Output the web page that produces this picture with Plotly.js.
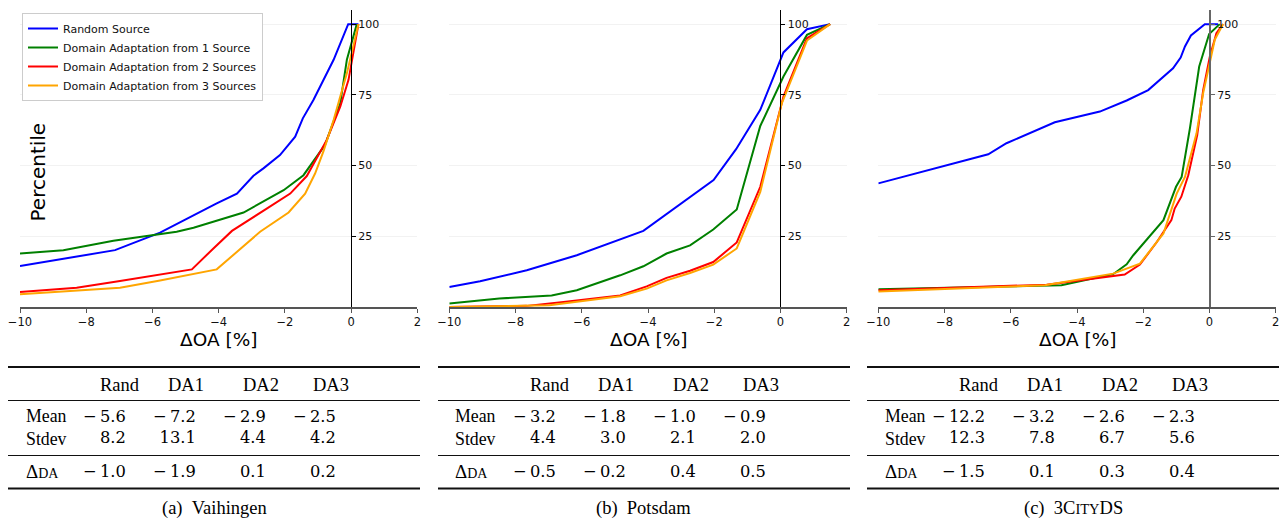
<!DOCTYPE html>
<html>
<head>
<meta charset="utf-8">
<script src="https://cdn.plot.ly/plotly-3.0.1.min.js"></script>
<style>html,body{margin:0;padding:0;background:#fff;}#chart{width:1282px;height:522px;}</style>
</head>
<body>
<div id="chart"></div>
<script>
// ---------------- DATA ----------------
const seriesNames = ['Random Source', 'Domain Adaptation from 1 Source', 'Domain Adaptation from 2 Sources', 'Domain Adaptation from 3 Sources'];
const xTickVals = [-10, -8, -6, -4, -2, 0, 2];
const yTickVals = [25, 50, 75, 100];

// (a) Vaihingen
const vai_rand_x = [-10, -7.13, -5.77, -4.76, -4.06, -3.45, -2.95, -2.65, -2.15, -1.69, -1.46, -1.14, -0.84, -0.53, -0.09, 0.22];
const vai_rand_y = [14.5, 20.1, 26.3, 32.5, 36.6, 40.1, 46.4, 49.0, 53.7, 60.2, 66.7, 73.2, 80.3, 87.4, 100, 100];
const vai_da1_x = [-10, -8.69, -7.18, -6.02, -5.27, -4.76, -3.25, -2.04, -1.44, -0.79, -0.33, -0.13, 0.17];
const vai_da1_y = [18.9, 20.1, 23.4, 25.4, 26.6, 28.0, 33.4, 41.3, 46.6, 57.3, 72.0, 87.4, 100];
const vai_da2_x = [-10, -8.29, -6.98, -4.81, -4.16, -3.60, -2.55, -1.84, -1.34, -0.74, -0.33, -0.08, 0.22];
const vai_da2_y = [5.3, 6.8, 9.2, 13.3, 20.7, 26.9, 34.8, 40.1, 46.3, 59.0, 70.8, 80.3, 100];
const vai_da3_x = [-10, -6.98, -5.77, -4.06, -2.75, -1.89, -1.39, -1.09, -0.84, -0.53, -0.13, 0.22];
const vai_da3_y = [4.5, 6.8, 9.4, 13.3, 26.6, 33.4, 40.1, 47.2, 54.9, 66.1, 82.6, 100];

// (b) Potsdam
const pot_rand_x = [-10, -9.07, -7.66, -6.15, -4.14, -2.63, -2.02, -1.34, -0.61, 0.09, 0.80, 1.50];
const pot_rand_y = [7.1, 9.1, 13.0, 18.3, 26.9, 39.6, 44.9, 55.8, 69.7, 90.0, 98.2, 100];
const pot_da1_x = [-10, -8.49, -6.91, -6.15, -4.84, -4.14, -3.44, -2.73, -2.03, -1.32, -0.61, 0.09, 0.80, 1.50];
const pot_da1_y = [1.2, 3.0, 4.1, 5.9, 11.2, 14.4, 18.9, 21.8, 27.4, 34.5, 64.0, 81.5, 96.2, 100];
const pot_da2_x = [-10, -7.66, -6.55, -4.84, -4.04, -3.44, -2.73, -2.03, -1.32, -0.61, 0.09, 0.80, 1.50];
const pot_da2_y = [0.0, 0.4, 1.8, 4.1, 7.3, 10.3, 12.8, 15.9, 22.8, 42.5, 74.4, 95.0, 100];
const pot_da3_x = [-10, -6.98, -4.84, -4.04, -3.44, -2.73, -2.03, -1.32, -0.61, 0.04, 0.80, 1.50];
const pot_da3_y = [0.0, 0.6, 3.8, 6.5, 9.4, 12.0, 15.0, 20.7, 40.7, 72.0, 94.2, 100];

// (c) 3CityDS
const city_rand_x = [-10, -8.04, -6.68, -6.13, -4.67, -3.31, -2.50, -1.85, -1.10, -0.87, -0.74, -0.56, -0.14, 0.26];
const city_rand_y = [43.7, 49.9, 54.0, 57.9, 65.3, 69.1, 73.0, 76.7, 84.4, 88.2, 92.1, 96.0, 100, 100];
const city_da1_x = [-10, -4.47, -2.91, -2.50, -2.30, -1.39, -1.01, -0.84, -0.59, -0.31, -0.01, 0.31];
const city_da1_y = [6.3, 7.7, 11.6, 15.1, 18.3, 30.7, 42.5, 46.0, 63.2, 85.0, 96.5, 100];
const city_da2_x = [-10, -4.92, -2.56, -2.10, -1.60, -1.15, -1.05, -0.85, -0.64, -0.37, -0.19, 0.01, 0.21, 0.41];
const city_da2_y = [5.9, 7.9, 11.5, 15.0, 22.8, 30.7, 34.8, 39.0, 46.6, 60.8, 76.7, 88.5, 96.8, 100];
const city_da3_x = [-10, -4.97, -2.91, -2.10, -1.39, -0.99, -0.74, -0.39, -0.19, 0.01, 0.16, 0.41];
const city_da3_y = [5.5, 7.7, 11.8, 15.3, 26.0, 40.1, 46.0, 61.4, 75.6, 86.2, 94.5, 100];

// Tables
const tableColumns = ['Rand', 'DA1', 'DA2', 'DA3'];
const rowLabels = ['Mean', 'Stdev'];
const vai_mean = [-5.6, -7.2, -2.9, -2.5];
const vai_stdev = [8.2, 13.1, 4.4, 4.2];
const vai_dda = [-1.0, -1.9, 0.1, 0.2];
const pot_mean = [-3.2, -1.8, -1.0, -0.9];
const pot_stdev = [4.4, 3.0, 2.1, 2.0];
const pot_dda = [-0.5, -0.2, 0.4, 0.5];
const city_mean = [-12.2, -3.2, -2.6, -2.3];
const city_stdev = [12.3, 7.8, 6.7, 5.6];
const city_dda = [-1.5, 0.1, 0.3, 0.4];
const captions = ['(a)\u2002Vaihingen', '(b)\u2002Potsdam', '(c)\u20023C<span style="font-size:14.5px">ITY</span>DS'];

// ---------------- LAYOUT HELPERS ----------------
const W = 1282, H = 522;
const px = v => v / W;
const py = v => 1 - v / H;
const colors = ['#0000ff', '#008000', '#ff0000', '#ffa500'];
const panelLeft = [20, 449.3, 878.3];
const panelWidth = 397.4;
const plotTop = 10, plotBottom = 307;
const tableLeft = [8, 438, 867];
const tableWidth = 412;

const panels = [
  {xs: [vai_rand_x, vai_da1_x, vai_da2_x, vai_da3_x], ys: [vai_rand_y, vai_da1_y, vai_da2_y, vai_da3_y], mean: vai_mean, stdev: vai_stdev, dda: vai_dda},
  {xs: [pot_rand_x, pot_da1_x, pot_da2_x, pot_da3_x], ys: [pot_rand_y, pot_da1_y, pot_da2_y, pot_da3_y], mean: pot_mean, stdev: pot_stdev, dda: pot_dda},
  {xs: [city_rand_x, city_da1_x, city_da2_x, city_da3_x], ys: [city_rand_y, city_da1_y, city_da2_y, city_da3_y], mean: city_mean, stdev: city_stdev, dda: city_dda}
];

const traces = [];
const layout = {
  width: W, height: H,
  margin: {l: 0, r: 0, t: 0, b: 0},
  paper_bgcolor: '#fff', plot_bgcolor: 'rgba(0,0,0,0)',
  showlegend: true,
  legend: {
    x: px(22), y: py(13), xanchor: 'left', yanchor: 'top',
    bgcolor: '#ffffff', bordercolor: '#cccccc', borderwidth: 1,
    font: {family: 'DejaVu Sans', size: 11, color: '#111'},
    tracegroupgap: 0, itemwidth: 30
  },
  shapes: [], annotations: []
};

const textFont = 'Liberation Serif';
const numFont = 'DejaVu Serif';
const fmt = v => (v < 0 ? '\u2212\u2009' : '') + Math.abs(v).toFixed(1);
const numRight = [118.7, 188.7, 258.7, 328.7];
const headLeft = [89.5, 157.5, 233, 302.5];

panels.forEach((p, i) => {
  const n = i === 0 ? '' : String(i + 1);
  const xa = 'x' + n, ya = 'y' + n;
  const d0 = px(panelLeft[i]), d1 = px(panelLeft[i] + panelWidth);
  layout['xaxis' + n] = {
    domain: [d0, d1], anchor: ya, range: [-10, 2],
    tickvals: xTickVals, ticks: 'outside', ticklen: 4, tickwidth: 1, tickcolor: '#555',
    showline: true, linecolor: '#555', linewidth: 1.5,
    showgrid: false, zeroline: false,
    tickfont: {family: 'DejaVu Sans', size: 11.5, color: '#111'},
    fixedrange: true
  };
  layout['yaxis' + n] = {
    domain: [py(plotBottom), py(plotTop)], anchor: 'free',
    position: d0 + (d1 - d0) * 10 / 12, side: 'right',
    range: [0, 105], tickvals: yTickVals,
    ticks: 'outside', ticklen: 4, tickwidth: 1, tickcolor: i === 2 ? '#666' : '#000',
    showline: true, linecolor: i === 2 ? '#666' : '#000', linewidth: i === 2 ? 1.6 : 1,
    showgrid: true, gridcolor: '#f2f2f2', gridwidth: 1, zeroline: false,
    tickfont: {family: 'DejaVu Sans', size: 11, color: '#111'},
    fixedrange: true
  };
  p.xs.forEach((xv, k) => {
    traces.push({
      type: 'scatter', mode: 'lines', x: xv, y: p.ys[k], xaxis: xa, yaxis: ya,
      name: seriesNames[k], showlegend: i === 0,
      line: {color: colors[k], width: 2}
    });
  });
  // x axis title
  layout.annotations.push({
    xref: 'paper', yref: 'paper', x: px(panelLeft[i] + panelWidth / 2), y: py(340),
    text: '\u0394OA [%]', showarrow: false, xanchor: 'center', yanchor: 'middle',
    font: {family: 'DejaVu Sans', size: 18.5, color: '#000'}
  });
  // table rules
  const L = tableLeft[i];
  [[367, 2.2], [400.5, 1.1], [455.5, 1.1], [488.5, 2.2]].forEach(([yy, w]) => {
    layout.shapes.push({type: 'line', xref: 'paper', yref: 'paper',
      x0: px(L), x1: px(L + tableWidth), y0: py(yy), y1: py(yy),
      line: {color: '#111', width: w}});
  });
  // header
  tableColumns.forEach((c, k) => {
    layout.annotations.push({xref: 'paper', yref: 'paper', x: px(L + headLeft[k]), y: py(385),
      text: c, showarrow: false, xanchor: 'left', yanchor: 'middle',
      font: {family: textFont, size: 18.5, color: '#000'}});
  });
  // rows: Mean / Stdev as two-line blocks
  layout.annotations.push({xref: 'paper', yref: 'paper', x: px(L + 15.5), y: py(427),
    text: rowLabels.join('<br>'), showarrow: false, xanchor: 'left', yanchor: 'middle', align: 'left',
    font: {family: textFont, size: 17.8, color: '#000'}});
  p.mean.forEach((v, k) => {
    layout.annotations.push({xref: 'paper', yref: 'paper', x: px(L + numRight[k] + 1), y: py(427),
      text: fmt(v) + '<br>' + fmt(p.stdev[k]), showarrow: false, xanchor: 'right', yanchor: 'middle', align: 'right',
      font: {family: numFont, size: 16.3, color: '#000'}});
  });
  layout.annotations.push({xref: 'paper', yref: 'paper', x: px(L + 15.5), y: py(471),
    text: '\u0394<span style="font-size:14px">DA</span>', showarrow: false, xanchor: 'left', yanchor: 'middle',
    font: {family: textFont, size: 19, color: '#000'}});
  p.dda.forEach((v, k) => {
    layout.annotations.push({xref: 'paper', yref: 'paper', x: px(L + numRight[k] + 1), y: py(471),
      text: fmt(v), showarrow: false, xanchor: 'right', yanchor: 'middle',
      font: {family: numFont, size: 16.3, color: '#000'}});
  });
  // caption
  layout.annotations.push({xref: 'paper', yref: 'paper', x: px(L + tableWidth / 2), y: py(508.5),
    text: captions[i], showarrow: false, xanchor: 'center', yanchor: 'middle',
    font: {family: textFont, size: 18.5, color: '#000'}});
});

// Percentile label
layout.annotations.push({xref: 'paper', yref: 'paper', x: px(37), y: py(172.5),
  text: 'Percentile', textangle: -90, showarrow: false, xanchor: 'center', yanchor: 'middle',
  font: {family: 'DejaVu Sans', size: 20, color: '#000'}});

Plotly.newPlot('chart', traces, layout, {staticPlot: true, displayModeBar: false});
</script>
</body>
</html>
